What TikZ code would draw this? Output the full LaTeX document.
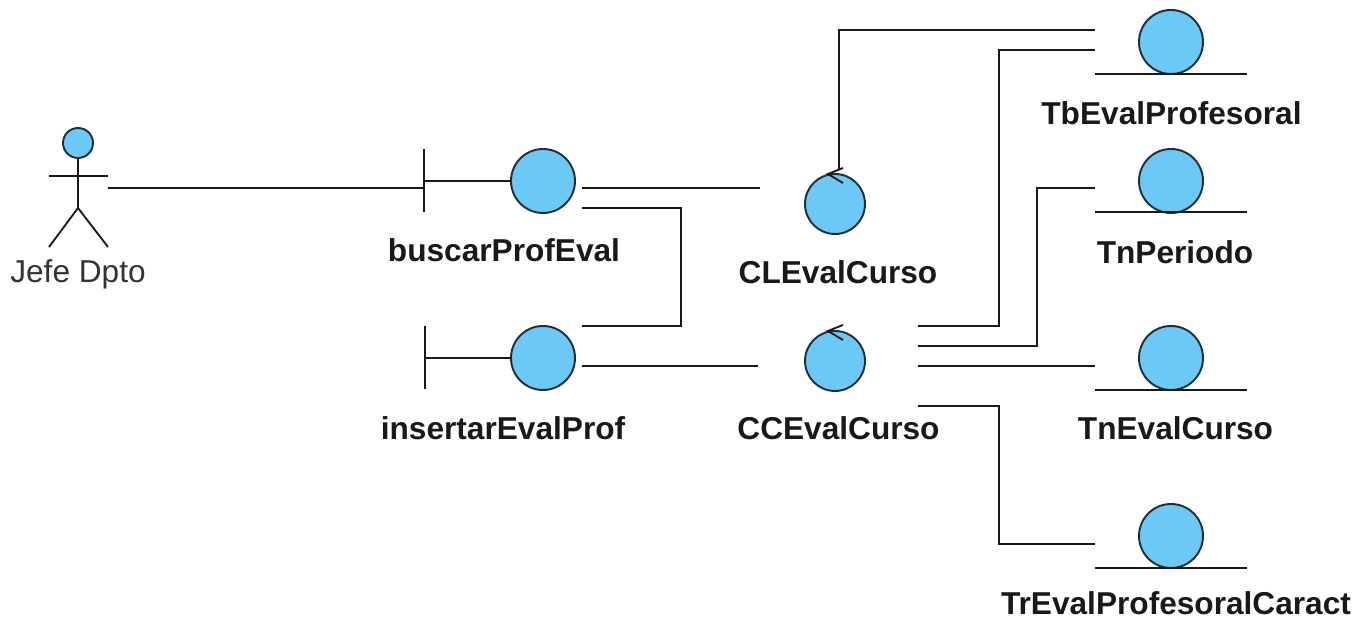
\documentclass[tikz,border=0pt]{standalone}
\usepackage{fontspec}
\setmainfont{Liberation Sans}
\usepackage{xcolor}
\definecolor{umlfill}{HTML}{6CC8F5}
\definecolor{umlline}{HTML}{1F2F3A}
\tikzset{
  umlcircle/.style={
    circle,
    draw=umlline,
    fill=umlfill,
    line width=1.1pt,
    inner sep=0pt,
    outer sep=0pt},
  bigcircle/.style={umlcircle, minimum size=1.28cm},
  ctrlcircle/.style={umlcircle, minimum size=1.2cm},
  headcircle/.style={umlcircle, minimum size=0.6cm},
  umllabel/.style={font=\fontsize{18}{21}\selectfont\bfseries, text=black!90},
  actorlabel/.style={font=\fontsize{18}{21}\selectfont, text=black!80},
  conn/.style={line width=1.05pt, black!90}
  }
\begin{document}
\begin{tikzpicture}
		\useasboundingbox (0,0) rectangle (27.44,12.42);
		% actor
		\node [headcircle] (head) at (1.56,9.56) {};
		\coordinate (hip) at (1.56,8.26);
		\coordinate (armL) at (0.98,8.90);
		\coordinate (armR) at (2.16,8.90);
		\coordinate (footL) at (0.98,7.48);
		\coordinate (footR) at (2.16,7.48);
		\draw [conn] (head) to (hip);
		\draw [conn] (armL) to (armR);
		\draw [conn] (footL) to (hip) to (footR);
		\node [actorlabel] (jefe) at (1.56,6.94) {Jefe Dpto};
		% boundaries
		\node [bigcircle] (buscar) at (10.86,8.80) {};
		\coordinate (buscarTop) at (8.48,9.44);
		\coordinate (buscarBot) at (8.48,8.18);
		\coordinate (buscarMid) at (8.48,8.80);
		\draw [conn] (buscarTop) to (buscarBot);
		\draw [conn] (buscarMid) to (buscar);
		\node [umllabel] (buscarText) at (10.08,7.42) {buscarProfEval};
		\node [bigcircle] (insertar) at (10.86,5.26) {};
		\coordinate (insertarTop) at (8.50,5.90);
		\coordinate (insertarBot) at (8.50,4.64);
		\coordinate (insertarMid) at (8.50,5.26);
		\draw [conn] (insertarTop) to (insertarBot);
		\draw [conn] (insertarMid) to (insertar);
		\node [umllabel] (insertarText) at (10.06,3.86) {insertarEvalProf};
		% controls
		\node [ctrlcircle] (cl) at (16.70,8.34) {};
		\coordinate (clA) at (16.86,9.06);
		\coordinate (clB) at (16.56,8.94);
		\coordinate (clC) at (16.86,8.76);
		\draw [conn] (clA) to (clB) to (clC);
		\node [umllabel] (clText) at (16.76,6.98) {CLEvalCurso};
		\node [ctrlcircle] (cc) at (16.70,5.20) {};
		\coordinate (ccA) at (16.86,5.92);
		\coordinate (ccB) at (16.56,5.80);
		\coordinate (ccC) at (16.86,5.62);
		\draw [conn] (ccA) to (ccB) to (ccC);
		\node [umllabel] (ccText) at (16.77,3.86) {CCEvalCurso};
		% entities
		\node [bigcircle] (tb) at (23.42,11.58) {};
		\coordinate (tbL) at (21.90,10.94);
		\coordinate (tbR) at (24.94,10.94);
		\draw [conn] (tbL) to (tbR);
		\node [umllabel] (tbText) at (23.43,10.16) {TbEvalProfesoral};
		\node [bigcircle] (per) at (23.42,8.80) {};
		\coordinate (perL) at (21.90,8.18);
		\coordinate (perR) at (24.94,8.18);
		\draw [conn] (perL) to (perR);
		\node [umllabel] (perText) at (23.50,7.38) {TnPeriodo};
		\node [bigcircle] (ev) at (23.42,5.26) {};
		\coordinate (evL) at (21.90,4.62);
		\coordinate (evR) at (24.94,4.62);
		\draw [conn] (evL) to (evR);
		\node [umllabel] (evText) at (23.51,3.86) {TnEvalCurso};
		\node [bigcircle] (tr) at (23.42,1.70) {};
		\coordinate (trL) at (21.90,1.06);
		\coordinate (trR) at (24.94,1.06);
		\draw [conn] (trL) to (trR);
		\node [umllabel] (trText) at (23.52,0.36) {TrEvalProfesoralCaract};
		% connector ends
		\coordinate (a1) at (2.16,8.66);
		\coordinate (a2) at (8.48,8.66);
		\coordinate (b1) at (11.64,8.66);
		\coordinate (b2) at (15.20,8.66);
		\coordinate (c1) at (11.64,8.26);
		\coordinate (c2) at (11.64,5.90);
		\coordinate (d1) at (11.64,5.10);
		\coordinate (d2) at (15.16,5.10);
		\coordinate (e1) at (16.78,9.02);
		\coordinate (e2) at (21.90,11.82);
		\coordinate (f1) at (18.36,5.90);
		\coordinate (f2) at (21.90,11.42);
		\coordinate (g1) at (18.36,5.50);
		\coordinate (g2) at (21.90,8.66);
		\coordinate (h1) at (18.36,5.10);
		\coordinate (h2) at (21.90,5.10);
		\coordinate (i1) at (18.36,4.30);
		\coordinate (i2) at (21.90,1.54);
		\draw [conn] (a1) to (a2);
		\draw [conn] (b1) to (b2);
		\draw [conn] (c1) -- (13.62,8.26) -- (13.62,5.90) -- (c2);
		\draw [conn] (d1) to (d2);
		\draw [conn] (e1) -- (16.78,11.82) -- (e2);
		\draw [conn] (f1) -- (19.98,5.90) -- (19.98,11.42) -- (f2);
		\draw [conn] (g1) -- (20.74,5.50) -- (20.74,8.66) -- (g2);
		\draw [conn] (h1) to (h2);
		\draw [conn] (i1) -- (19.98,4.30) -- (19.98,1.54) -- (i2);
	\end{tikzpicture}
\end{document}
